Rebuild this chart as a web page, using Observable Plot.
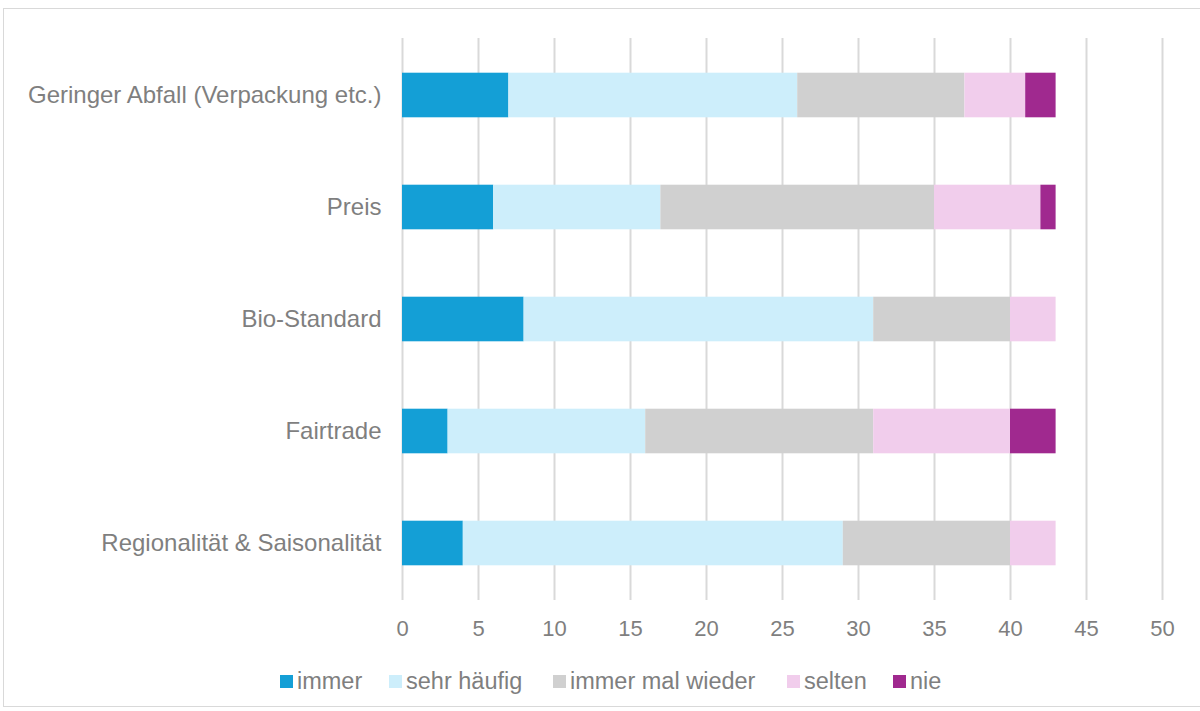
<!DOCTYPE html>
<html>
<head>
<meta charset="utf-8">
<script src="https://cdn.jsdelivr.net/npm/d3@7"></script>
<script src="https://cdn.jsdelivr.net/npm/@observablehq/plot@0.6"></script>
<style>
  html, body { margin: 0; padding: 0; background: #fff; }
  body { width: 1200px; height: 711px; position: relative; overflow: hidden; font-family: "Liberation Sans", Arial, sans-serif; }
  #frame { position: absolute; left: 3px; top: 8px; width: 1220px; height: 699px; border: 1px solid #d9d9d9; box-sizing: border-box; }
  #chart { position: absolute; left: 0; top: 0; }
  #legend { position: absolute; top: 666px; left: 0; width: 1200px; height: 30px; font-size: 23.5px; color: #7f7f7f; }
  .item { position: absolute; top: 0; display: flex; align-items: center; height: 30px; white-space: nowrap; }
  .sw { width: 13px; height: 13px; margin-right: 4px; }
</style>
</head>
<body>
<div id="frame"></div>
<div id="chart"></div>
<div id="legend"></div>
<script>
const categories = ["Geringer Abfall (Verpackung etc.)", "Preis", "Bio-Standard", "Fairtrade", "Regionalität & Saisonalität"];
const seriesNames = ["immer", "sehr häufig", "immer mal wieder", "selten", "nie"];
const seriesColors = ["#149fd6", "#cdeefb", "#d0d0d0", "#f1cdec", "#a0298f"];
const immer = [7, 6, 8, 3, 4];
const sehrHaeufig = [19, 11, 23, 13, 25];
const immerMalWieder = [11, 18, 9, 15, 11];
const selten = [4, 7, 3, 9, 3];
const nie = [2, 1, 0, 3, 0];
const xTicks = [0, 5, 10, 15, 20, 25, 30, 35, 40, 45, 50];
const legendLeft = [280, 389, 553, 787, 893];

const seriesValues = [immer, sehrHaeufig, immerMalWieder, selten, nie];
const data = [];
categories.forEach((c, i) => {
  seriesNames.forEach((s, j) => {
    data.push({ category: c, series: s, value: seriesValues[j][i] });
  });
});

const chart = Plot.plot({
  width: 1200,
  height: 650,
  marginLeft: 402,
  marginRight: 38,
  marginTop: 38,
  marginBottom: 50,
  style: { fontFamily: "'Liberation Sans', Arial, sans-serif", background: "transparent" },
  x: { domain: [0, 50], ticks: xTicks, label: null },
  y: { domain: categories, padding: 0, label: null },
  color: { domain: seriesNames, range: seriesColors },
  marks: [
    Plot.ruleX(xTicks, { stroke: "#d9d9d9", strokeWidth: 2, strokeOpacity: 1 }),
    Plot.barX(data, Plot.stackX({ order: seriesNames }, { x: "value", y: "category", fill: "series", insetLeft: 0, insetRight: 0, insetTop: 33.7, insetBottom: 33.7 })),
    Plot.axisX({ ticks: xTicks, tickSize: 0, tickPadding: 20, fontSize: 22, fill: "#7f7f7f", label: null }),
    Plot.axisY({ tickSize: 0, tickPadding: 21, fontSize: 24, fill: "#7f7f7f", label: null })
  ]
});
document.getElementById("chart").appendChild(chart);

const legend = document.getElementById("legend");
seriesNames.forEach((s, i) => {
  const item = document.createElement("div");
  item.className = "item";
  item.style.left = legendLeft[i] + "px";
  const sw = document.createElement("div");
  sw.className = "sw";
  sw.style.background = seriesColors[i];
  const t = document.createElement("span");
  t.textContent = s;
  item.appendChild(sw);
  item.appendChild(t);
  legend.appendChild(item);
});
</script>
</body>
</html>
